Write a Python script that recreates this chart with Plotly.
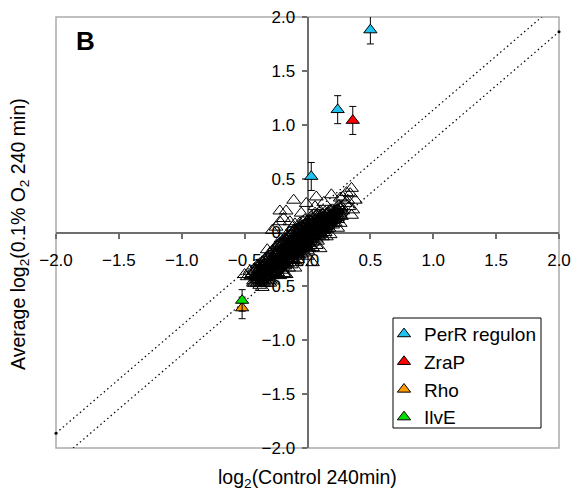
import plotly.graph_objects as go

# ---- data (log2 ratios) ----
# all genes (open triangles): control 240 min vs 0.1% O2 240 min
ctrl_x = [
 -0.45,-0.43,-0.42,-0.41,-0.40,-0.39,-0.38,-0.37,-0.36,-0.35,-0.35,-0.44,-0.40,-0.38,-0.36,
 -0.34,-0.33,-0.33,-0.32,-0.31,-0.31,-0.30,-0.30,-0.29,-0.29,-0.28,-0.28,-0.27,-0.27,-0.26,-0.26,-0.25,-0.25,-0.34,-0.32,-0.30,-0.28,-0.26,-0.33,-0.27,
 -0.24,-0.24,-0.23,-0.23,-0.22,-0.22,-0.21,-0.21,-0.20,-0.20,-0.20,-0.19,-0.19,-0.18,-0.18,-0.18,-0.17,-0.17,-0.16,-0.16,-0.16,-0.15,-0.15,-0.15,-0.24,-0.22,-0.21,-0.19,-0.17,-0.23,-0.20,-0.18,-0.16,-0.24,-0.19,
 -0.14,-0.14,-0.14,-0.13,-0.13,-0.13,-0.12,-0.12,-0.12,-0.11,-0.11,-0.11,-0.10,-0.10,-0.10,-0.09,-0.09,-0.09,-0.08,-0.08,-0.08,-0.07,-0.07,-0.07,-0.06,-0.06,-0.06,-0.05,-0.05,-0.05,-0.14,-0.13,-0.12,-0.11,-0.10,-0.09,-0.08,-0.07,-0.06,-0.05,
 -0.04,-0.04,-0.04,-0.03,-0.03,-0.03,-0.02,-0.02,-0.02,-0.01,-0.01,-0.01,0.00,0.00,0.00,0.00,0.01,0.01,0.01,0.02,0.02,0.02,0.03,0.03,0.03,0.04,0.04,0.04,0.05,0.05,-0.04,-0.03,-0.02,-0.01,0.00,0.01,0.02,0.03,0.04,0.05,
 0.06,0.06,0.06,0.07,0.07,0.07,0.08,0.08,0.08,0.09,0.09,0.09,0.10,0.10,0.10,0.11,0.11,0.11,0.12,0.12,0.12,0.13,0.13,0.13,0.14,0.14,0.14,0.15,0.15,0.06,0.08,0.10,0.12,0.14,0.09,
 0.16,0.16,0.16,0.17,0.17,0.17,0.18,0.18,0.18,0.19,0.19,0.20,0.20,0.20,0.21,0.21,0.22,0.22,0.22,0.23,0.23,0.24,0.24,0.25,0.25,0.26,0.26,0.27,0.27,0.28,
 -0.22,-0.17,-0.11,-0.01,0.07,0.19,0.35,0.31,0.26,0.38,0.35,0.36,0.26,0.15,0.07,0.00,-0.10,-0.18,-0.36,-0.43,-0.48,-0.50,-0.46,-0.30,-0.32,-0.28,-0.22,-0.14,-0.32,0.04,-0.17,0.34,0.28,0.30,0.33,0.32,0.06,0.13,-0.05,0.24,0.18,-0.25,-0.19,0.10,
 -0.40,-0.39,-0.39,-0.38,-0.37,-0.37,-0.36,-0.35,-0.34,-0.34,-0.33,-0.32,-0.32,-0.31,-0.31,-0.30,-0.29,-0.29,-0.28,-0.28,-0.27,-0.26,-0.26,-0.25,-0.25,-0.24,-0.23,-0.22,-0.21,-0.20,
 -0.20,-0.19,-0.19,-0.18,-0.18,-0.17,-0.17,-0.16,-0.16,-0.15,-0.15,-0.14,-0.14,-0.13,-0.13,-0.12,-0.12,-0.11,-0.11,-0.10,-0.10,-0.09,-0.09,-0.08,-0.08,-0.07,-0.07,-0.06,-0.06,-0.05,-0.05,-0.04,-0.04,-0.03,-0.03,-0.02,-0.02,-0.01,-0.01,0.00,
 0.00,0.01,0.01,0.02,0.02,0.03,0.03,0.04,0.04,0.05,0.05,0.06,0.06,0.07,0.07,0.08,0.08,0.09,0.09,0.10,0.10,0.11,0.11,0.12,0.12,0.13,0.14,0.15,0.15,0.16,0.17,0.18,0.19,0.21,0.23,
]
o2_y = [
 -0.40,-0.45,-0.36,-0.42,-0.47,-0.38,-0.33,-0.44,-0.40,-0.30,-0.46,-0.38,-0.33,-0.49,-0.35,
 -0.38,-0.27,-0.42,-0.33,-0.24,-0.38,-0.29,-0.44,-0.35,-0.21,-0.31,-0.40,-0.26,-0.36,-0.19,-0.30,-0.39,-0.23,-0.31,-0.47,-0.22,-0.45,-0.34,-0.36,-0.30,
 -0.28,-0.17,-0.33,-0.22,-0.26,-0.13,-0.30,-0.19,-0.24,-0.35,-0.10,-0.27,-0.16,-0.21,-0.31,-0.08,-0.25,-0.14,-0.19,-0.29,-0.05,-0.22,-0.12,-0.33,-0.37,-0.40,-0.06,-0.38,-0.03,-0.11,-0.18,-0.15,-0.24,-0.24,-0.22,
 -0.17,-0.08,-0.26,-0.13,-0.21,-0.02,-0.16,-0.24,-0.06,-0.11,-0.19,0.02,-0.14,-0.22,-0.04,-0.09,-0.17,-0.28,-0.12,-0.01,-0.20,-0.07,-0.15,0.04,-0.10,-0.18,-0.03,-0.13,-0.06,0.06,-0.12,-0.30,0.05,-0.26,0.08,-0.05,-0.25,-0.21,0.09,-0.20,
 -0.08,-0.02,-0.15,-0.05,0.03,-0.11,-0.01,-0.08,0.07,-0.04,0.02,-0.13,0.00,-0.07,0.05,-0.17,-0.02,0.04,-0.10,0.01,0.08,-0.06,0.03,-0.03,0.11,0.00,0.06,-0.09,0.02,0.09,0.10,-0.19,0.12,0.08,0.11,-0.15,-0.12,0.15,-0.14,-0.04,
 0.05,-0.01,0.12,0.03,0.09,-0.06,0.07,0.00,0.14,0.04,0.10,-0.03,0.08,0.02,0.15,0.06,0.12,-0.01,0.09,0.04,0.17,0.11,0.02,0.07,0.13,0.05,0.19,0.09,0.03,0.18,-0.08,0.20,-0.04,0.00,0.16,
 0.12,0.06,0.18,0.10,0.15,0.04,0.13,0.20,0.08,0.16,0.11,0.14,0.21,0.07,0.17,0.12,0.19,0.15,0.09,0.18,0.23,0.16,0.12,0.20,0.25,0.18,0.22,0.15,0.24,0.20,
 0.20,0.20,0.30,0.27,0.33,0.35,0.41,0.37,0.32,0.30,0.16,0.21,0.085,-0.04,-0.12,-0.22,-0.33,-0.39,-0.51,-0.47,-0.41,-0.39,-0.36,-0.47,-0.16,0.02,0.10,0.10,-0.25,-0.28,-0.39,0.36,0.33,0.27,0.24,0.30,0.24,0.28,0.18,0.04,-0.02,0.05,0.13,-0.15,
 -0.41,-0.35,-0.44,-0.39,-0.36,-0.31,-0.43,-0.37,-0.34,-0.42,-0.32,-0.38,-0.28,-0.34,-0.41,-0.32,-0.27,-0.38,-0.34,-0.25,-0.32,-0.27,-0.37,-0.30,-0.20,-0.32,-0.27,-0.21,-0.25,-0.29,
 -0.20,-0.24,-0.12,-0.18,-0.26,-0.20,-0.10,-0.15,-0.21,-0.17,-0.26,-0.13,-0.21,-0.16,-0.09,-0.12,-0.19,-0.15,-0.07,-0.10,-0.18,-0.13,-0.02,-0.08,-0.16,-0.11,-0.03,-0.06,-0.14,-0.09,-0.01,-0.05,-0.12,-0.07,0.00,-0.04,-0.11,-0.01,-0.08,-0.03,
 0.03,0.00,0.07,-0.03,0.04,0.00,0.07,0.03,-0.04,0.05,-0.01,0.02,0.08,0.05,0.00,0.10,0.04,0.07,0.01,0.05,0.11,0.09,0.03,0.07,0.13,0.09,0.10,0.12,0.06,0.09,0.12,0.16,0.13,0.15,0.20,
]
# more genes from the densely packed centre of the cloud
core_x = [
 -0.42,-0.415,-0.425,-0.40,-0.405,-0.395,-0.38,-0.385,-0.375,-0.38,-0.36,-0.365,-0.355,-0.36,
 -0.34,-0.345,-0.335,-0.34,-0.32,-0.325,-0.315,-0.32,-0.30,-0.305,-0.295,-0.30,-0.28,-0.285,-0.275,-0.28,
 -0.26,-0.265,-0.255,-0.26,-0.24,-0.245,-0.235,-0.24,-0.22,-0.225,-0.215,-0.22,-0.20,-0.205,-0.195,-0.20,
 -0.18,-0.185,-0.175,-0.18,-0.16,-0.165,-0.155,-0.16,-0.14,-0.145,-0.135,-0.14,-0.12,-0.125,-0.115,-0.12,
 -0.10,-0.105,-0.095,-0.10,-0.08,-0.085,-0.075,-0.08,-0.06,-0.065,-0.055,-0.06,-0.04,-0.045,-0.035,-0.04,
 -0.02,-0.025,-0.015,-0.02,0.00,-0.005,0.005,0.00,0.02,0.015,0.025,0.02,0.04,0.035,0.045,0.04,
 0.06,0.055,0.065,0.06,0.08,0.075,0.085,0.08,0.10,0.095,0.105,0.12,0.115,0.125,0.14,0.135,0.145,
 0.16,0.155,0.165,0.18,0.175,0.185,0.20,0.205,0.22,0.225,0.24,0.235,0.26,0.255,
]
core_y = [
 -0.47,-0.40,-0.34,-0.44,-0.37,-0.30,-0.46,-0.41,-0.35,-0.29,-0.45,-0.38,-0.32,-0.27,
 -0.44,-0.36,-0.30,-0.25,-0.42,-0.35,-0.30,-0.23,-0.40,-0.34,-0.26,-0.19,-0.37,-0.29,-0.23,-0.17,
 -0.36,-0.28,-0.22,-0.14,-0.34,-0.27,-0.20,-0.12,-0.31,-0.24,-0.17,-0.10,-0.30,-0.22,-0.15,-0.08,
 -0.28,-0.20,-0.13,-0.06,-0.26,-0.18,-0.11,-0.04,-0.24,-0.15,-0.09,-0.03,-0.22,-0.14,-0.08,0.00,
 -0.20,-0.12,-0.06,0.02,-0.18,-0.10,-0.04,0.03,-0.16,-0.08,-0.02,0.05,-0.14,-0.06,0.00,0.06,
 -0.12,-0.05,0.02,0.08,-0.10,-0.03,0.03,0.09,-0.08,-0.01,0.05,0.11,-0.06,0.01,0.07,0.13,
 -0.04,0.03,0.09,0.15,-0.02,0.05,0.11,0.17,0.00,0.07,0.13,0.02,0.09,0.15,0.04,0.11,0.17,
 0.07,0.13,0.19,0.10,0.15,0.21,0.11,0.17,0.13,0.20,0.14,0.21,0.16,0.23,
]

# highlighted genes: name, x, y, error
highlight_names = ["PerR regulon", "ZraP", "Rho", "IlvE"]
highlight_colors = ["#1EC3F0", "#FF0000", "#FF9900", "#00E000"]
highlight_x = [[0.50, 0.24, 0.03], [0.36], [-0.52], [-0.52]]
highlight_y = [[1.88, 1.14, 0.52], [1.04], [-0.70], [-0.63]]
highlight_err = [[0.13, 0.13, 0.13], [0.13], [0.10], [0.10]]

fold_offset = 0.1375          # log2(1.1)
line_x = [-2.0, 2.0]

axis_range = [-2.0, 2.0]
tick_vals = [-2.0, -1.5, -1.0, -0.5, 0.0, 0.5, 1.0, 1.5, 2.0]

FONT = "Liberation Sans, Arial"
ML, MR, MT, MB = 56, 17, 17, 52
W, H = 576, 500
PW, PH = W - ML - MR, H - MT - MB


def px_x(p):
    return (p - ML) / PW


def px_y(p):
    return (H - MB - p) / PH


fig = go.Figure()

# dotted fold-change lines
fig.add_trace(go.Scatter(x=line_x, y=[v + fold_offset for v in line_x], mode="lines",
                         line=dict(color="black", width=1.2, dash="1.5px,3px"), showlegend=False,
                         hoverinfo="skip"))
fig.add_trace(go.Scatter(x=line_x, y=[v - fold_offset for v in line_x], mode="lines",
                         line=dict(color="black", width=1.2, dash="1.5px,3px"), showlegend=False,
                         hoverinfo="skip"))
fig.add_trace(go.Scatter(x=[line_x[0], line_x[1]],
                         y=[line_x[0] + fold_offset, line_x[1] - fold_offset],
                         mode="markers", marker=dict(color="black", size=3),
                         showlegend=False, hoverinfo="skip", cliponaxis=False))

# all genes
fig.add_trace(go.Scatter(x=ctrl_x + core_x, y=o2_y + core_y, mode="markers", showlegend=False,
                         marker=dict(symbol="triangle-up-open", size=12, color="black",
                                     line=dict(color="black", width=1))))

for name, col, xs, ys, es in zip(highlight_names, highlight_colors, highlight_x,
                                 highlight_y, highlight_err):
    fig.add_trace(go.Scatter(
        x=xs, y=ys, mode="markers", name=name, legendgroup=name,
        marker=dict(symbol="triangle-up", size=11.5, color=col,
                    line=dict(color="black", width=1)),
        error_y=dict(type="data", array=es, visible=True, color="black",
                     thickness=1, width=3.5)))

axis_common = dict(range=axis_range, tickvals=tick_vals, tickformat=".1f",
                   showgrid=False, zeroline=False, showline=True, automargin=False,
                   linecolor="#6E6E6E", linewidth=2, ticks="outside", ticklen=5,
                   tickwidth=1.5, tickcolor="#6E6E6E",
                   tickfont=dict(family=FONT, size=17, color="black"),
                   anchor="free", position=0.5, layer="below traces")

fig.update_layout(
    width=W, height=H,
    margin=dict(l=ML, r=MR, t=MT, b=MB, autoexpand=False),
    plot_bgcolor="white", paper_bgcolor="white",
    xaxis=dict(**axis_common, side="bottom", ticklabelstandoff=7),
    yaxis=dict(**axis_common, side="left", ticklabelstandoff=3),
    showlegend=True,
    legend=dict(x=px_x(384), y=px_y(315), xanchor="left", yanchor="top",
                borderwidth=0, bgcolor="rgba(0,0,0,0)",
                font=dict(family=FONT, size=19, color="black"),
                tracegroupgap=0, itemwidth=30),
    shapes=[
        dict(type="rect", xref="x domain", yref="y domain", x0=0, y0=0, x1=1, y1=1,
             line=dict(color="#ABABAB", width=1.5), layer="below"),
        dict(type="rect", xref="paper", yref="paper", x0=px_x(393), x1=px_x(541),
             y0=px_y(428), y1=px_y(318), line=dict(color="black", width=1),
             fillcolor="white", layer="above"),
    ],
    annotations=[
        dict(text="<b>B</b>", xref="paper", yref="paper", x=px_x(85), y=px_y(41),
             xanchor="center", yanchor="middle", showarrow=False,
             font=dict(family=FONT, size=26, color="black")),
        dict(text="log<sub>2</sub>(Control 240min)", xref="paper", yref="paper",
             x=px_x(307), y=px_y(478), xanchor="center", yanchor="middle", showarrow=False,
             font=dict(family=FONT, size=19.5, color="black")),
        dict(text="Average log<sub>2</sub>(0.1% O<sub>2</sub> 240 min)", xref="paper",
             yref="paper", x=px_x(19), y=px_y(234), textangle=-90, showarrow=False,
             xanchor="center", yanchor="middle",
             font=dict(family=FONT, size=19.5, color="black")),
    ],
)

fig.write_html("out.html")
